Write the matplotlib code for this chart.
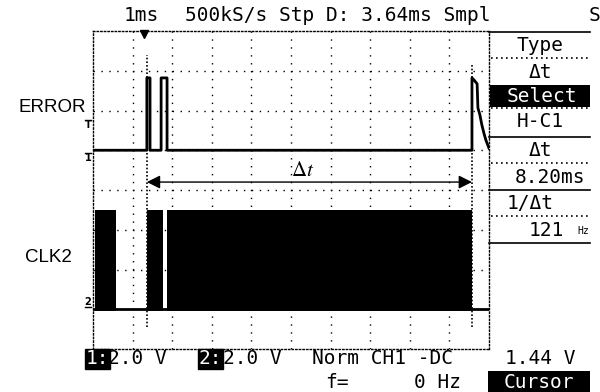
import matplotlib
matplotlib.use('Agg')
import matplotlib.pyplot as plt
import numpy as np

plt.rcParams['mathtext.fontset'] = 'stix'

# --- data (1 ms/div, 2.0 V/div both channels) ---
# ERROR (CH1): time in ms from left edge, volts
err_t = [0.0, 1.36, 1.36, 1.44, 1.44, 1.72, 1.72, 1.87, 1.87, 9.57, 9.57,
         9.62, 9.70, 9.72, 9.77, 9.82, 9.87, 9.92, 10.0]
err_v = [0.0, 0.0, 3.64, 3.64, 0.0, 0.0, 3.64, 3.64, 0.0, 0.0, 3.64,
         3.54, 3.34, 2.13, 1.78, 1.27, 0.87, 0.52, 0.1]
# CLK2 (CH2): clock bursts (start, end) in ms, high level in volts
clk_start = [0.05, 1.36, 1.87]
clk_end = [0.58, 1.76, 9.57]
clk_high = 5.0
# cursors
cur1, cur2 = 1.36, 9.57
trig_t = 1.29
ch1_pos, ch2_pos = 1, -3  # ground offsets in divisions
volts_div = 2.0

menu_items = ['Type', 'Δt', 'Select', 'H-C1', 'Δt', '8.20ms', '1/Δt', '121']

fig = plt.figure(figsize=(6, 3.92), dpi=100)
W, H = 600, 392

# scope screen axes
ax = fig.add_axes([93 / W, 1 - 349 / H, 396 / W, 318 / H])
ax.set_xlim(0, 10)
ax.set_ylim(-4, 4)
ax.set_xticks([])
ax.set_yticks([])
for sp in ax.spines.values():
    sp.set_linestyle((0, (1, 1.6)))
    sp.set_linewidth(1)

# dotted grid
for x in range(1, 10):
    ax.plot([x, x], [-4, 4], color='k', lw=1, ls=(0, (1, 4.7)), zorder=1)
for y in range(-3, 4):
    ax.plot([0, 10], [y, y], color='k', lw=1, ls=(0, (1, 4.7)), zorder=1)

# CLK2 trace
ch2 = lambda v: np.asarray(v) / volts_div + ch2_pos
ax.plot([0, 10], [ch2(0), ch2(0)], color='k', lw=2, zorder=3)
for s, e in zip(clk_start, clk_end):
    ax.fill_between([s, e], ch2(-0.1), ch2(clk_high), color='k', lw=0, zorder=3)

# ERROR trace
ax.plot(err_t, np.asarray(err_v) / volts_div + ch1_pos, color='k', lw=2, zorder=4)

# cursors
for c, top in [(cur1, 3.4), (cur2, 3.2)]:
    ax.plot([c, c], [-3.45, top], color='k', lw=1.2, ls=(0, (1, 1.2)), zorder=2)
ax.annotate('', xy=(cur2, 0.2), xytext=(cur1, 0.2),
            arrowprops=dict(arrowstyle='<|-|>', mutation_scale=20, lw=1,
                            color='k', shrinkA=0, shrinkB=0))
ax.text(5.3, 0.5, r'$\Delta t$', fontsize=15, ha='center', va='center')

# trigger marker
ax.plot([trig_t], [3.93], marker='v', color='k', ms=6, clip_on=False, zorder=5)

# overlay in pixel coordinates for the text parts
ov = fig.add_axes([0, 0, 1, 1])
ov.set_xlim(0, W)
ov.set_ylim(H, 0)
ov.axis('off')
ov.patch.set_visible(False)

mono = dict(family='DejaVu Sans Mono', fontsize=14, va='center')

ov.text(141, 15, '1ms', ha='center', **mono)
ov.text(185, 15, '500kS/s Stp D: 3.64ms Smpl', ha='left', **mono)
ov.text(595, 15, 'S', ha='center', **mono)

ov.text(52, 107, 'ERROR', family='Liberation Sans', fontsize=13.5,
        ha='center', va='center')
ov.text(48, 258, 'CLK2', family='Liberation Sans', fontsize=13.5,
        ha='center', va='center')
ov.text(88, 125, 'T', fontsize=7, fontweight='bold', ha='center', va='center')
ov.plot([85, 91], [120, 120], color='k', lw=1)
ov.text(88, 158, '1', fontsize=7, fontweight='bold', ha='center', va='center')
ov.plot([85, 91], [153, 153], color='k', lw=1)
ov.text(88, 302, '2', fontsize=7, fontweight='bold', ha='center', va='center')
ov.plot([85, 91], [307, 307], color='k', lw=1)

# right menu panel
ov.plot([489, 590], [32, 32], color='k', lw=1.2)
for y in [58, 108, 163, 216]:
    ov.plot([491, 590], [y, y], color='k', lw=1.2, ls=(0, (1, 2)))
for y in [137, 190, 243]:
    ov.plot([489, 590], [y, y], color='k', lw=1.2)
ov.fill_between([490, 590], 85, 107, color='k', lw=0)
menu_y = [45, 72, 96, 121, 150, 177, 203, 230]
menu_x = [540, 540, 542, 540, 540, 550, 530, 546]
for txt, x, y in zip(menu_items, menu_x, menu_y):
    ov.text(x, y, txt, ha='center', color='w' if txt == 'Select' else 'k', **mono)
ov.text(583, 231, 'Hz', family='DejaVu Sans Mono', fontsize=7, ha='center', va='center')

# bottom status line
ov.text(86, 359, '1:', ha='left', color='w',
        bbox=dict(boxstyle='square,pad=0.05', fc='k', ec='k'), **mono)
ov.text(108, 359, '2.0 V', ha='left', **mono)
ov.text(199, 359, '2:', ha='left', color='w',
        bbox=dict(boxstyle='square,pad=0.05', fc='k', ec='k'), **mono)
ov.text(223, 359, '2.0 V', ha='left', **mono)
ov.text(312, 359, 'Norm CH1 -DC', ha='left', **mono)
ov.text(540, 359, '1.44 V', ha='center', **mono)
ov.text(337, 382, 'f=', ha='center', **mono)
ov.text(437, 382, '0 Hz', ha='center', **mono)
ov.fill_between([488, 590], 371, 392, color='k', lw=0)
ov.text(539, 382, 'Cursor', ha='center', color='w', **mono)

fig.savefig('out.png', dpi=100)
